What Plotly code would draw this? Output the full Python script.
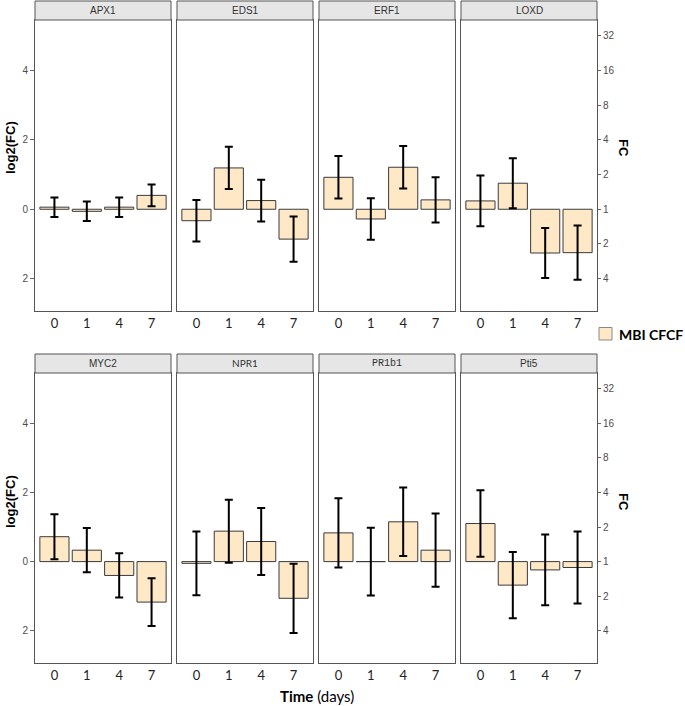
import plotly.graph_objects as go

# ---------------- data ----------------
days = ['0', '1', '4', '7']
genes = ['APX1', 'EDS1', 'ERF1', 'LOXD', 'MYC2', 'NPR1', 'PR1b1', 'Pti5']

APX1 = [0.06, -0.06, 0.06, 0.40]
APX1_err = [0.28, 0.28, 0.28, 0.31]
EDS1 = [-0.33, 1.19, 0.25, -0.86]
EDS1_err = [0.60, 0.61, 0.60, 0.65]
ERF1 = [0.92, -0.28, 1.21, 0.27]
ERF1_err = [0.61, 0.60, 0.61, 0.65]
LOXD = [0.24, 0.75, -1.26, -1.25]
LOXD_err = [0.73, 0.72, 0.72, 0.78]
MYC2 = [0.72, 0.33, -0.40, -1.17]
MYC2_err = [0.65, 0.64, 0.64, 0.69]
NPR1 = [-0.05, 0.88, 0.58, -1.06]
NPR1_err = [0.92, 0.91, 0.97, 1.00]
PR1b1 = [0.83, 0.00, 1.15, 0.33]
PR1b1_err = [1.00, 0.98, 0.99, 1.06]
Pti5 = [1.10, -0.68, -0.24, -0.17]
Pti5_err = [0.96, 0.96, 1.02, 1.04]

values = [APX1, EDS1, ERF1, LOXD, MYC2, NPR1, PR1b1, Pti5]
errors = [APX1_err, EDS1_err, ERF1_err, LOXD_err, MYC2_err, NPR1_err, PR1b1_err, Pti5_err]

left_ticks = [4, 2, 0, -2]
left_labels = ['4', '2', '0', '2']
right_ticks = [5, 4, 3, 2, 1, 0, -1, -2]
right_labels = ['32', '16', '8', '4', '2', '1', '2', '4']
series_name = 'MBI CFCF'

# ---------------- layout geometry ----------------
W, H = 685, 706
cols_px = [(35, 171), (177, 313), (319, 455), (461, 597)]
rows_px = [(20, 311), (373, 663)]
strip_h = 19
strip_fonts = ['Liberation Sans', 'Liberation Sans', 'Liberation Sans', 'Liberation Sans',
               'Liberation Sans', 'Lato', 'Liberation Mono', 'Liberation Sans']


def px_x(v):
    return v / W


def px_y(v):
    return 1 - v / H


FILL = '#FFE8C6'
EDGE = '#3a3a3a'
GRID = '#555555'

fig = go.Figure()
shapes = []
annotations = []
layout = {}

for i, g in enumerate(genes):
    r, c = divmod(i, 4)
    n = i + 1
    xa = 'x' if n == 1 else f'x{n}'
    ya = 'y' if n == 1 else f'y{n}'
    xkey = 'xaxis' if n == 1 else f'xaxis{n}'
    ykey = 'yaxis' if n == 1 else f'yaxis{n}'
    x0, x1 = cols_px[c]
    y0, y1 = rows_px[r]

    fig.add_trace(go.Bar(
        x=days, y=values[i], xaxis=xa, yaxis=ya, width=0.9,
        name=series_name, showlegend=False,
        marker=dict(color=FILL, line=dict(color=EDGE, width=1)),
        error_y=dict(type='data', array=errors[i], color='black', thickness=2, width=4),
    ))

    layout[xkey] = dict(
        domain=[px_x(x0), px_x(x1)], anchor=ya, type='category',
        categoryorder='array', categoryarray=days, range=[-0.6, 3.6],
        showgrid=False, zeroline=False, showline=True, mirror=True,
        linecolor=GRID, linewidth=1, ticks='',
        tickfont=dict(family='Lato', size=13, color='#222222'),
        fixedrange=True,
    )
    yd = dict(
        domain=[px_y(y1), px_y(y0)], anchor=xa, range=[-2.93, 5.45],
        showgrid=False, zeroline=False, showline=True, mirror=True,
        linecolor=GRID, linewidth=1, fixedrange=True,
    )
    if c == 0:
        yd.update(side='left', tickmode='array', tickvals=left_ticks, ticktext=left_labels,
                  ticks='outside', ticklen=4, tickcolor='#666666',
                  tickfont=dict(family='Liberation Sans', size=10, color='#4d4d4d'))
    elif c == 3:
        yd.update(side='right', tickmode='array', tickvals=right_ticks, ticktext=right_labels,
                  ticks='outside', ticklen=3, tickcolor='#666666',
                  tickfont=dict(family='Liberation Sans', size=10, color='#4d4d4d'))
    else:
        yd.update(showticklabels=False, ticks='')
    layout[ykey] = yd

    # strip
    shapes.append(dict(type='rect', xref='paper', yref='paper',
                       x0=px_x(x0), x1=px_x(x1), y0=px_y(y0), y1=px_y(y0 - strip_h),
                       fillcolor='#e6e6e6', line=dict(color=GRID, width=1)))
    annotations.append(dict(text=g, xref='paper', yref='paper', showarrow=False,
                            x=px_x((x0 + x1) / 2), y=px_y(y0 - strip_h / 2),
                            xanchor='center', yanchor='middle',
                            font=dict(family=strip_fonts[i], size=10, color='#333333')))

# axis titles
for yc in [148, 502]:
    annotations.append(dict(text='<b>log2(FC)</b>', xref='paper', yref='paper', showarrow=False,
                            x=px_x(10), y=px_y(yc), textangle=-90, xanchor='center', yanchor='middle',
                            font=dict(family='Liberation Sans', size=13, color='black')))
    annotations.append(dict(text='<b>FC</b>', xref='paper', yref='paper', showarrow=False,
                            x=px_x(624), y=px_y(yc), textangle=90, xanchor='center', yanchor='middle',
                            font=dict(family='Liberation Sans', size=13, color='black')))
annotations.append(dict(text='<b>Time</b> (days)', xref='paper', yref='paper', showarrow=False,
                        x=px_x(317), y=px_y(696), xanchor='center', yanchor='middle',
                        font=dict(family='Lato', size=15, color='black')))

# legend (key swatch + label)
shapes.append(dict(type='rect', xref='paper', yref='paper',
                   x0=px_x(599), x1=px_x(612), y0=px_y(340), y1=px_y(327.5),
                   fillcolor=FILL, line=dict(color='#888888', width=1)))
annotations.append(dict(text='<b>' + series_name + '</b>', xref='paper', yref='paper', showarrow=False,
                        x=px_x(617), y=px_y(334), xanchor='left', yanchor='middle',
                        font=dict(family='Lato', size=14, color='black')))

fig.update_layout(
    width=W, height=H, margin=dict(l=0, r=0, t=0, b=0),
    paper_bgcolor='white', plot_bgcolor='white',
    bargap=0.1, shapes=shapes, annotations=annotations,
    showlegend=False,
    **layout,
)

fig.write_html('out.html', config={'displayModeBar': False},
               post_script="document.body.style.margin='0px';document.body.style.overflow='hidden';")
